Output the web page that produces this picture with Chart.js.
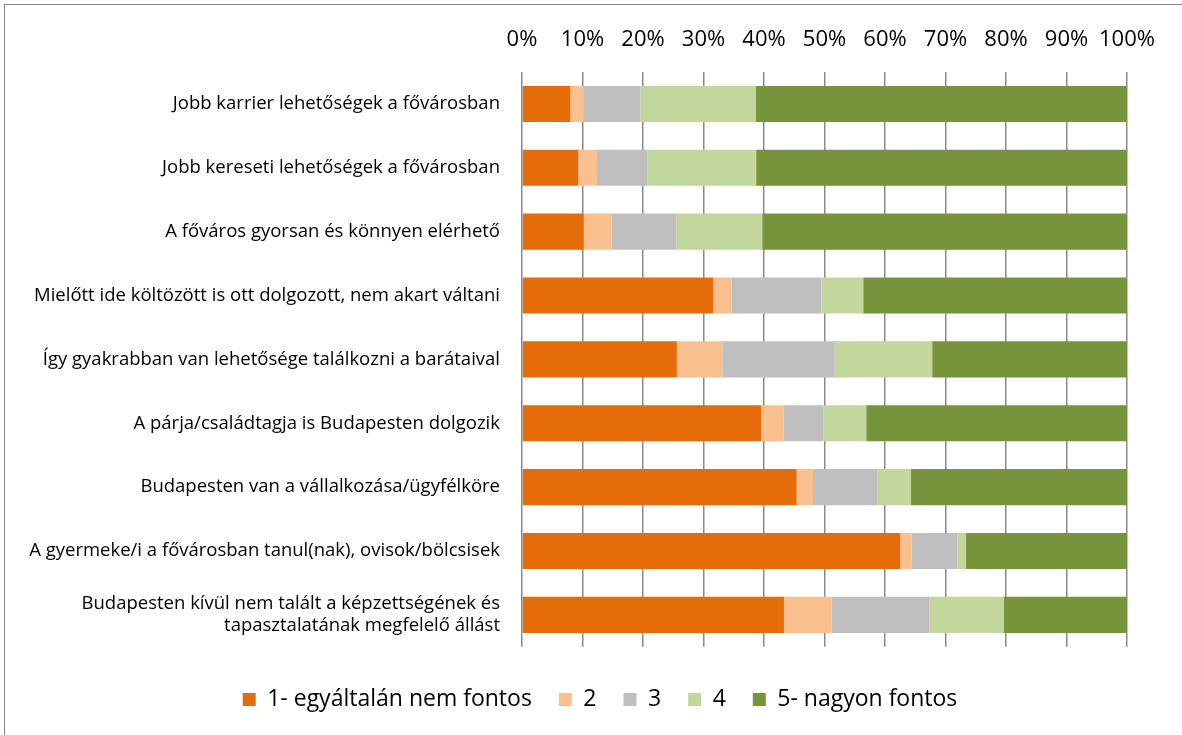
<!DOCTYPE html>
<html>
<head>
<meta charset="utf-8">
<script src="https://cdn.jsdelivr.net/npm/chart.js@4/dist/chart.umd.min.js"></script>
<style>
  html, body { margin: 0; padding: 0; background: #fff; overflow: hidden; }
  #wrap {
    position: absolute; left: 4px; top: 4px;
    width: 1178px; height: 731px;
    border-left: 1px solid #868686; border-top: 1px solid #868686;
  }
  canvas { display: block; }
</style>
</head>
<body>
<div id="wrap"><canvas id="chart" width="1177" height="730"></canvas></div>
<script>
const categories = [
  'Jobb karrier lehetőségek a fővárosban',
  'Jobb kereseti lehetőségek a fővárosban',
  'A főváros gyorsan és könnyen elérhető',
  'Mielőtt ide költözött is ott dolgozott, nem akart váltani',
  'Így gyakrabban van lehetősége találkozni a barátaival',
  'A párja/családtagja is Budapesten dolgozik',
  'Budapesten van a vállalkozása/ügyfélköre',
  'A gyermeke/i a fővárosban tanul(nak), ovisok/bölcsisek',
  ['Budapesten kívül nem talált a képzettségének és', 'tapasztalatának megfelelő állást']
];

const seriesNames = ['1- egyáltalán nem fontos', '2', '3', '4', '5- nagyon fontos'];
const seriesColors = ['#E46C0A', '#FAC090', '#BFBFBF', '#C3D69B', '#77933C'];

const s1 = [8.0, 9.3, 10.2, 31.6, 25.6, 39.5, 45.4, 62.5, 43.3];
const s2 = [2.2, 3.1, 4.6, 3.0, 7.5, 3.7, 2.7, 1.9, 7.9];
const s3 = [9.4, 8.3, 10.7, 14.9, 18.6, 6.6, 10.6, 7.6, 16.1];
const s4 = [19.0, 18.0, 14.2, 6.9, 16.1, 7.1, 5.6, 1.4, 12.3];
const s5 = [61.4, 61.3, 60.3, 43.6, 32.2, 43.1, 35.7, 26.6, 20.4];

const xTicks = [0, 10, 20, 30, 40, 50, 60, 70, 80, 90, 100];

const font = '"Open Sans", sans-serif';

// legend sits a bit right of the canvas centre in the original
const shiftLegend = {
  id: 'shiftLegend',
  afterLayout(chart) {
    chart.legend.left += 34;
    chart.legend.right += 34;
  }
};

const ctx = document.getElementById('chart').getContext('2d');
new Chart(ctx, {
  type: 'bar',
  data: {
    labels: categories,
    datasets: [s1, s2, s3, s4, s5].map((d, i) => ({
      label: seriesNames[i],
      data: d,
      backgroundColor: seriesColors[i],
      borderWidth: 0,
      categoryPercentage: 1,
      barPercentage: 0.565
    }))
  },
  options: {
    indexAxis: 'y',
    responsive: false,
    animation: false,
    layout: { padding: { left: 0, right: 55, top: 0, bottom: 14 } },
    scales: {
      x: {
        position: 'top',
        stacked: true,
        min: 0,
        max: 100,
        afterBuildTicks: (axis) => { axis.ticks = xTicks.map(v => ({ value: v })); },
        afterFit: (axis) => { axis.height = 67; },
        ticks: {
          callback: (v) => v + '%',
          color: '#000',
          padding: 19,
          minRotation: 0,
          maxRotation: 0,
          autoSkip: false,
          font: { family: font, size: 22 }
        },
        grid: { color: '#8a8a8a', lineWidth: 1.5, drawTicks: false },
        border: { display: false }
      },
      y: {
        stacked: true,
        afterFit: (axis) => { axis.width = 517; },
        ticks: {
          color: '#000',
          padding: 14,
          font: { family: font, size: 18.5 }
        },
        grid: { display: false },
        border: { display: false }
      }
    },
    plugins: {
      legend: {
        position: 'bottom',
        title: { display: true, text: '', padding: { top: 13, bottom: 0 }, font: { size: 1 } },
        labels: {
          color: '#000',
          boxWidth: 13,
          boxHeight: 13,
          padding: 27,
          font: { family: font, size: 23 }
        }
      },
      tooltip: { enabled: false }
    }
  },
  plugins: [shiftLegend]
});
</script>
</body>
</html>
